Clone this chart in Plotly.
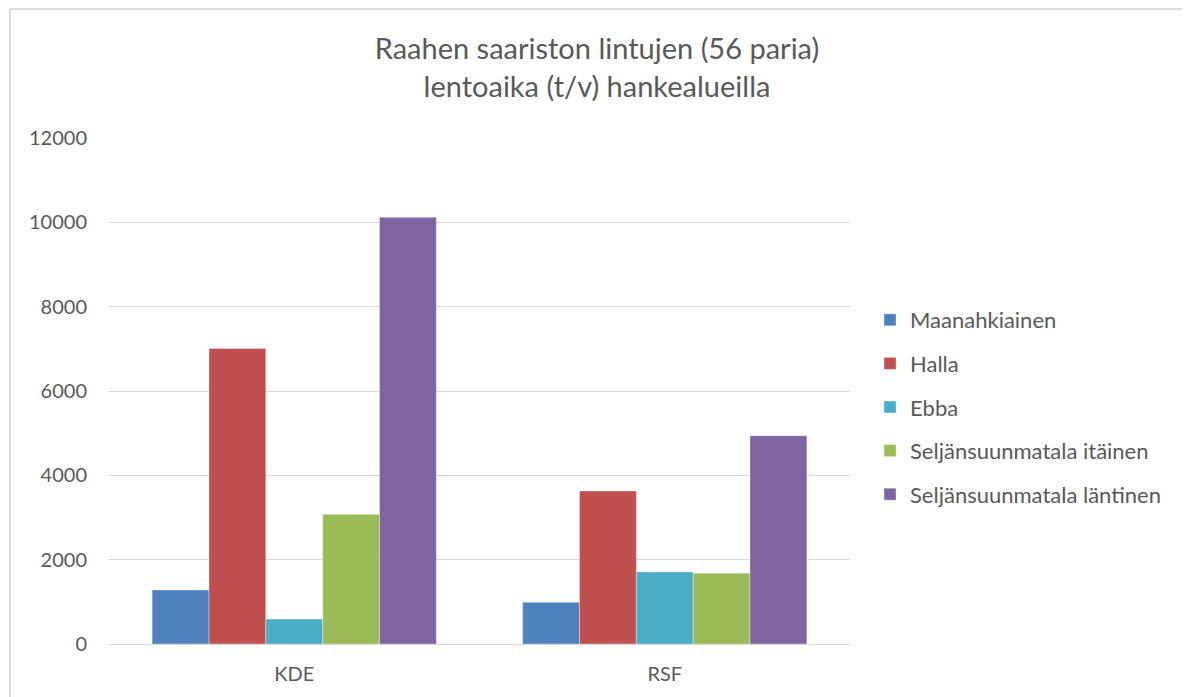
import plotly.graph_objects as go

categories = ["KDE", "RSF"]
series_names = ["Maanahkiainen", "Halla", "Ebba", "Seljänsuunmatala itäinen", "Seljänsuunmatala läntinen"]
maanahkiainen = [1280, 990]
halla = [7010, 3630]
ebba = [590, 1710]
itainen = [3075, 1680]
lantinen = [10120, 4940]
y_ticks = [0, 2000, 4000, 6000, 8000, 10000, 12000]

values = [maanahkiainen, halla, ebba, itainen, lantinen]
colors = ["#4F81BD", "#C0504D", "#4BACC6", "#9BBB59", "#8064A2"]

FONT = "Lato"
TXT = "#595959"

# page has an 8px body margin; work in figure coordinates = page - 8
OFF = 8
W, H = 1190 - OFF, 697 - OFF
L = 109 - OFF
T = 138 - OFF
B = H - (644 - OFF)
R = W - (850 - OFF)
pw, ph = W - L - R, H - T - B

fig = go.Figure()
for name, vals, c in zip(series_names, values, colors):
    fig.add_trace(go.Bar(
        x=categories, y=vals, name=name, legendgroup=name,
        marker=dict(color=c, line=dict(color="rgba(255,255,255,0.35)", width=1)),
    ))

def px_x(x):
    return (x - OFF - L) / pw

def px_y(y):
    return (H - B - (y - OFF)) / ph

fig.update_layout(
    width=W, height=H,
    margin=dict(l=L, r=R, t=T, b=B),
    paper_bgcolor="white", plot_bgcolor="white",
    barmode="group", bargap=0.233, bargroupgap=0,
    font=dict(family=FONT, color=TXT, size=20),
    title=dict(
        text="Raahen saariston lintujen (56 paria)<br>lentoaika (t/v) hankealueilla",
        x=(597 - OFF) / W, xref="container", xanchor="center",
        y=1 - (59 - OFF) / H, yref="container", yanchor="top",
        font=dict(family=FONT, size=29, color=TXT),
    ),
    xaxis=dict(showgrid=False, showline=True, linecolor="#d9d9d9", linewidth=1,
               ticks="", tickfont=dict(size=20, color=TXT), ticklabelstandoff=12),
    yaxis=dict(range=[0, 12000], tickvals=y_ticks, ticktext=[str(v) for v in y_ticks],
               showgrid=True, gridcolor="#d9d9d9", gridwidth=1, zeroline=False,
               showline=False, ticks="", tickfont=dict(size=20, color=TXT),
               ticklabelstandoff=21),
    legend=dict(
        x=px_x(870), y=px_y(407), xanchor="left", yanchor="middle",
        font=dict(size=22, color=TXT), tracegroupgap=12,
        itemwidth=30, bgcolor="rgba(0,0,0,0)",
    ),
    showlegend=True,
)

# chart frame (left and top edges)
fig.add_shape(type="line", xref="paper", yref="paper",
              x0=px_x(10), x1=px_x(10), y0=px_y(700), y1=px_y(9),
              line=dict(color="#d9d9d9", width=2))
fig.add_shape(type="line", xref="paper", yref="paper",
              x0=px_x(10), x1=px_x(1195), y0=px_y(9), y1=px_y(9),
              line=dict(color="#d9d9d9", width=2))

fig.write_html("out.html")
